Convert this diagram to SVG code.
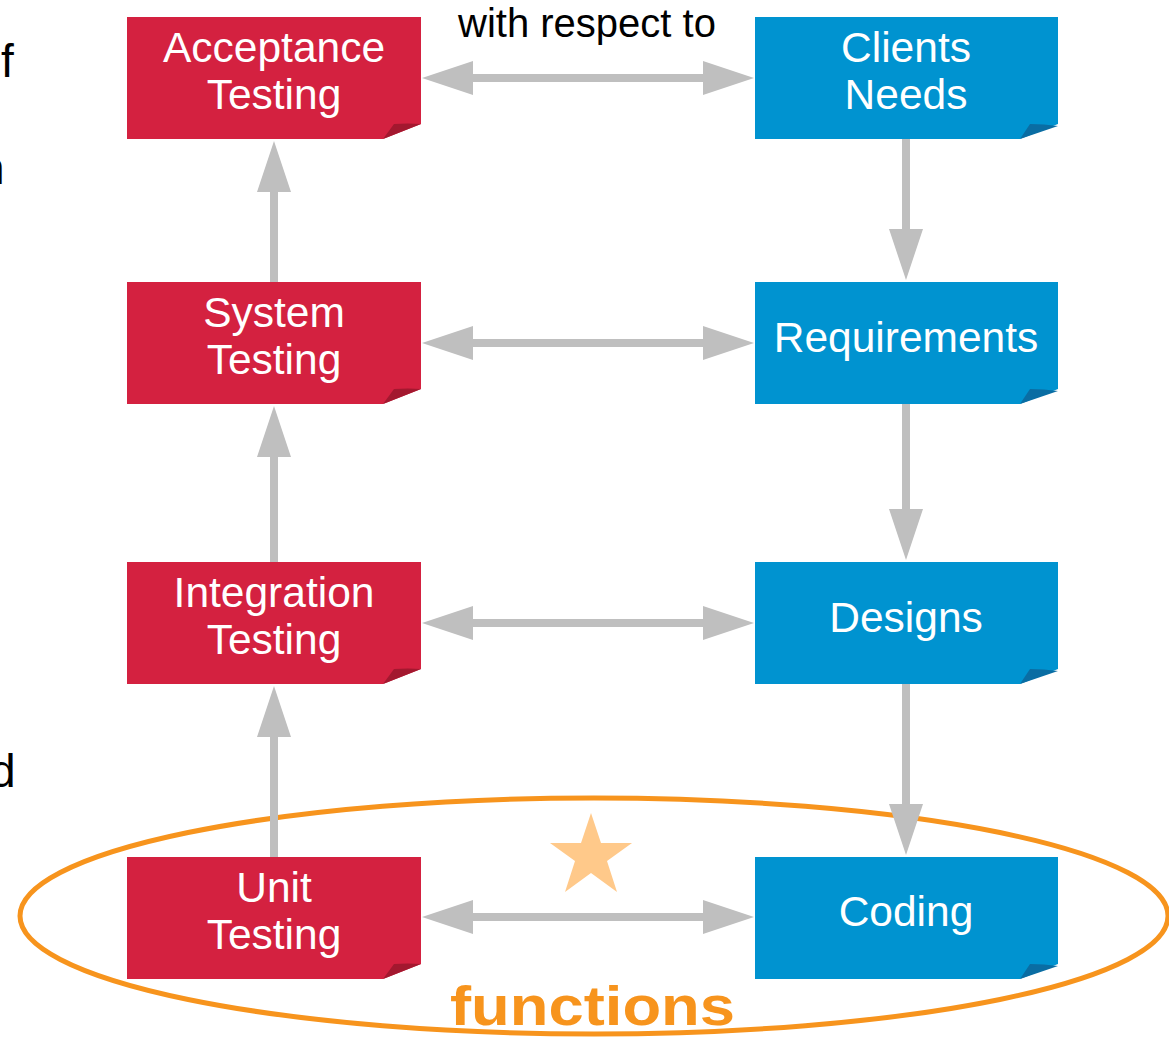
<svg xmlns="http://www.w3.org/2000/svg" width="1169" height="1038" viewBox="0 0 1169 1038">
  <style>
    .label { font-family: "Liberation Sans", Arial, sans-serif; font-size: 42.5px; fill: #ffffff; text-anchor: middle; }
    .plain { font-family: "Liberation Sans", Arial, sans-serif; fill: #000000; }
    .test { fill: #D42140; }
    .test-fold { fill: #A3182F; }
    .dev { fill: #0093D0; }
    .dev-fold { fill: #0A6DA3; }
    .link { stroke: #BFBFBF; stroke-width: 8; fill: none; }
  </style>
  <defs>
    <marker id="head" viewBox="0 0 51 34" refX="1" refY="17" markerWidth="51" markerHeight="34" markerUnits="userSpaceOnUse" orient="auto-start-reverse">
      <path d="M0,0 L51,17 L0,34 Z" fill="#BFBFBF"/>
    </marker>
    <!-- note cards with a curled bottom-right corner -->
    <path id="card-test" d="M0,0 H294 V107 L256,122 H0 Z"/>
    <path id="curl-test" d="M256,122 L267,107 Q281,106 294,107 Z"/>
    <path id="card-dev" d="M0,0 H303 V107 L265,122 H0 Z"/>
    <path id="curl-dev" d="M265,122 L275,107 Q289,107 303,109 Z"/>
  </defs>

  <rect width="1169" height="1038" fill="#ffffff"/>

  <!-- text running in from the left margin -->
  <text class="plain" x="1" y="77" font-size="46">f</text>
  <text class="plain" x="-21" y="184" font-size="46">n</text>
  <text class="plain" x="-10" y="787" font-size="46">d</text>

  <!-- highlight ring around the unit level -->
  <ellipse cx="594" cy="916" rx="574" ry="118" fill="none" stroke="#F7941D" stroke-width="5"/>

  <!-- connectors -->
  <g id="connectors">
    <line class="link" x1="472" y1="78" x2="704" y2="78" marker-start="url(#head)" marker-end="url(#head)"/>
    <line class="link" x1="472" y1="343" x2="704" y2="343" marker-start="url(#head)" marker-end="url(#head)"/>
    <line class="link" x1="472" y1="623" x2="704" y2="623" marker-start="url(#head)" marker-end="url(#head)"/>
    <line class="link" x1="472" y1="917" x2="704" y2="917" marker-start="url(#head)" marker-end="url(#head)"/>
    <line class="link" x1="274" y1="282" x2="274" y2="191" marker-end="url(#head)"/>
    <line class="link" x1="274" y1="562" x2="274" y2="456" marker-end="url(#head)"/>
    <line class="link" x1="274" y1="857" x2="274" y2="736" marker-end="url(#head)"/>
    <line class="link" x1="906" y1="139" x2="906" y2="230" marker-end="url(#head)"/>
    <line class="link" x1="906" y1="404" x2="906" y2="510" marker-end="url(#head)"/>
    <line class="link" x1="906" y1="684" x2="906" y2="805" marker-end="url(#head)"/>
  </g>

  <text class="plain" x="587" y="37" font-size="40" text-anchor="middle">with respect to</text>

  <!-- testing levels -->
  <g id="acceptance-testing" transform="translate(127,17)">
    <use href="#card-test" class="test"/><use href="#curl-test" class="test-fold"/>
    <text class="label" x="147" y="45">Acceptance</text>
    <text class="label" x="147" y="92">Testing</text>
  </g>
  <g id="system-testing" transform="translate(127,282)">
    <use href="#card-test" class="test"/><use href="#curl-test" class="test-fold"/>
    <text class="label" x="147" y="45">System</text>
    <text class="label" x="147" y="92">Testing</text>
  </g>
  <g id="integration-testing" transform="translate(127,562)">
    <use href="#card-test" class="test"/><use href="#curl-test" class="test-fold"/>
    <text class="label" x="147" y="45">Integration</text>
    <text class="label" x="147" y="92">Testing</text>
  </g>
  <g id="unit-testing" transform="translate(127,857)">
    <use href="#card-test" class="test"/><use href="#curl-test" class="test-fold"/>
    <text class="label" x="147" y="45">Unit</text>
    <text class="label" x="147" y="92">Testing</text>
  </g>

  <!-- development stages -->
  <g id="clients-needs" transform="translate(755,17)">
    <use href="#card-dev" class="dev"/><use href="#curl-dev" class="dev-fold"/>
    <text class="label" x="151" y="45">Clients</text>
    <text class="label" x="151" y="92">Needs</text>
  </g>
  <g id="requirements" transform="translate(755,282)">
    <use href="#card-dev" class="dev"/><use href="#curl-dev" class="dev-fold"/>
    <text class="label" x="151" y="70">Requirements</text>
  </g>
  <g id="designs" transform="translate(755,562)">
    <use href="#card-dev" class="dev"/><use href="#curl-dev" class="dev-fold"/>
    <text class="label" x="151" y="70">Designs</text>
  </g>
  <g id="coding" transform="translate(755,857)">
    <use href="#card-dev" class="dev"/><use href="#curl-dev" class="dev-fold"/>
    <text class="label" x="151" y="69">Coding</text>
  </g>

  <!-- star marker between unit testing and coding -->
  <polygon id="star" fill="#FFC98A" points="591,813 601,843 632,843 607,861 617,892 591,873 565,892 575,861 550,843 581,843"/>

  <text id="functions" x="450" y="1025" font-family="Liberation Sans, Arial, sans-serif" font-weight="bold" font-size="56" fill="#F7941D" textLength="285" lengthAdjust="spacingAndGlyphs">functions</text>
</svg>
